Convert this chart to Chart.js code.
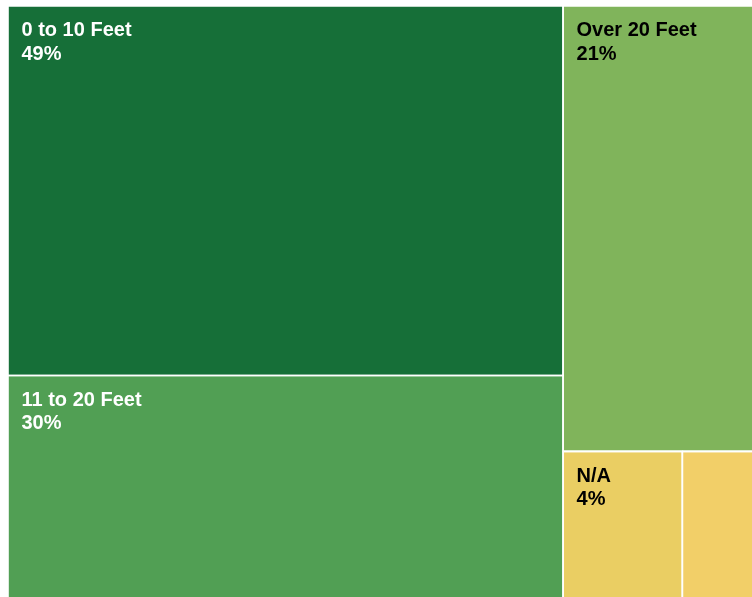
<!DOCTYPE html>
<html>
<head>
<meta charset="utf-8">
<script src="https://cdn.jsdelivr.net/npm/chart.js@4.4.1/dist/chart.umd.min.js"></script>
<style>
  html, body { margin: 0; padding: 0; background: #ffffff; overflow: hidden; }
  #wrap { position: absolute; left: 0; top: 0; width: 768px; height: 608px; }
  canvas { display: block; }
</style>
</head>
<body>
<div id="wrap"><canvas id="c" width="768" height="608"></canvas></div>
<script>
// ---- data ----
const categories = ['0 to 10 Feet', '11 to 20 Feet', 'Over 20 Feet', 'N/A', ''];
const shares = [49.1, 30.1, 21, 4.3, 2.8];
const shareLabels = ['49%', '30%', '21%', '4%', ''];
const fillColors = ['#166f38', '#519f54', '#80b45b', '#eace63', '#f2cf68'];
const textColors = ['#ffffff', '#ffffff', '#000000', '#000000', '#000000'];
// treemap grouping (indices into categories): columns, then rows, then columns
const groups = [[0, 1], [2, [3, 4]]];

// ---- slice-and-dice layout in data units (0..1 both axes) ----
function nodeSum(node) {
  return Array.isArray(node) ? node.reduce((s, n) => s + nodeSum(n), 0) : shares[node];
}
const rects = [];
function layout(node, x0, y0, x1, y1, depth) {
  if (!Array.isArray(node)) { rects[node] = { x0, y0, x1, y1 }; return; }
  const total = nodeSum(node);
  let acc = 0;
  node.forEach(child => {
    const f0 = acc / total;
    acc += nodeSum(child);
    const f1 = acc / total;
    if (depth % 2 === 0) {
      layout(child, x0 + (x1 - x0) * f0, y0, x0 + (x1 - x0) * f1, y1, depth + 1);
    } else {
      layout(child, x0, y0 + (y1 - y0) * f0, x1, y0 + (y1 - y0) * f1, depth + 1);
    }
  });
}
layout(groups, 0, 0, 1, 1, 0);

const datasets = categories.map((name, i) => {
  const r = rects[i];
  return {
    label: name,
    data: [
      { x: r.x0, y: r.y0 }, { x: r.x1, y: r.y0 },
      { x: r.x1, y: r.y1 }, { x: r.x0, y: r.y1 }, { x: r.x0, y: r.y0 }
    ],
    showLine: true,
    fill: 'shape',
    backgroundColor: fillColors[i],
    borderColor: '#ffffff',
    borderWidth: 1.6,
    pointRadius: 0,
    tension: 0,
    clip: 0
  };
});

const labelPlugin = {
  id: 'cellLabels',
  afterDatasetsDraw(chart) {
    const ctx = chart.ctx;
    const xs = chart.scales.x, ys = chart.scales.y;
    ctx.save();
    ctx.font = 'bold 20px "Liberation Sans", Arial, sans-serif';
    ctx.textBaseline = 'alphabetic';
    ctx.textAlign = 'left';
    categories.forEach((name, i) => {
      if (!name) return;
      const r = rects[i];
      const left = xs.getPixelForValue(r.x0);
      const right = xs.getPixelForValue(r.x1);
      const top = ys.getPixelForValue(r.y0);
      const bottom = ys.getPixelForValue(r.y1);
      const w = Math.max(ctx.measureText(name).width, ctx.measureText(shareLabels[i]).width);
      if (w + 20 > right - left || bottom - top < 60) return;
      ctx.fillStyle = textColors[i];
      ctx.fillText(name, left + 13.5, top + 30.3);
      ctx.fillText(shareLabels[i], left + 13.5, top + 54);
    });
    ctx.restore();
  }
};

new Chart(document.getElementById('c'), {
  type: 'scatter',
  data: { datasets },
  options: {
    responsive: false,
    animation: false,
    layout: { padding: { left: 8, top: 6, right: 8, bottom: 6 } },
    scales: {
      x: { type: 'linear', min: 0, max: 1, display: false },
      y: { type: 'linear', min: 0, max: 1, reverse: true, display: false }
    },
    plugins: {
      legend: { display: false },
      tooltip: { enabled: false },
      filler: { drawTime: 'beforeDatasetsDraw' }
    },
    events: []
  },
  plugins: [labelPlugin]
});
</script>
</body>
</html>
